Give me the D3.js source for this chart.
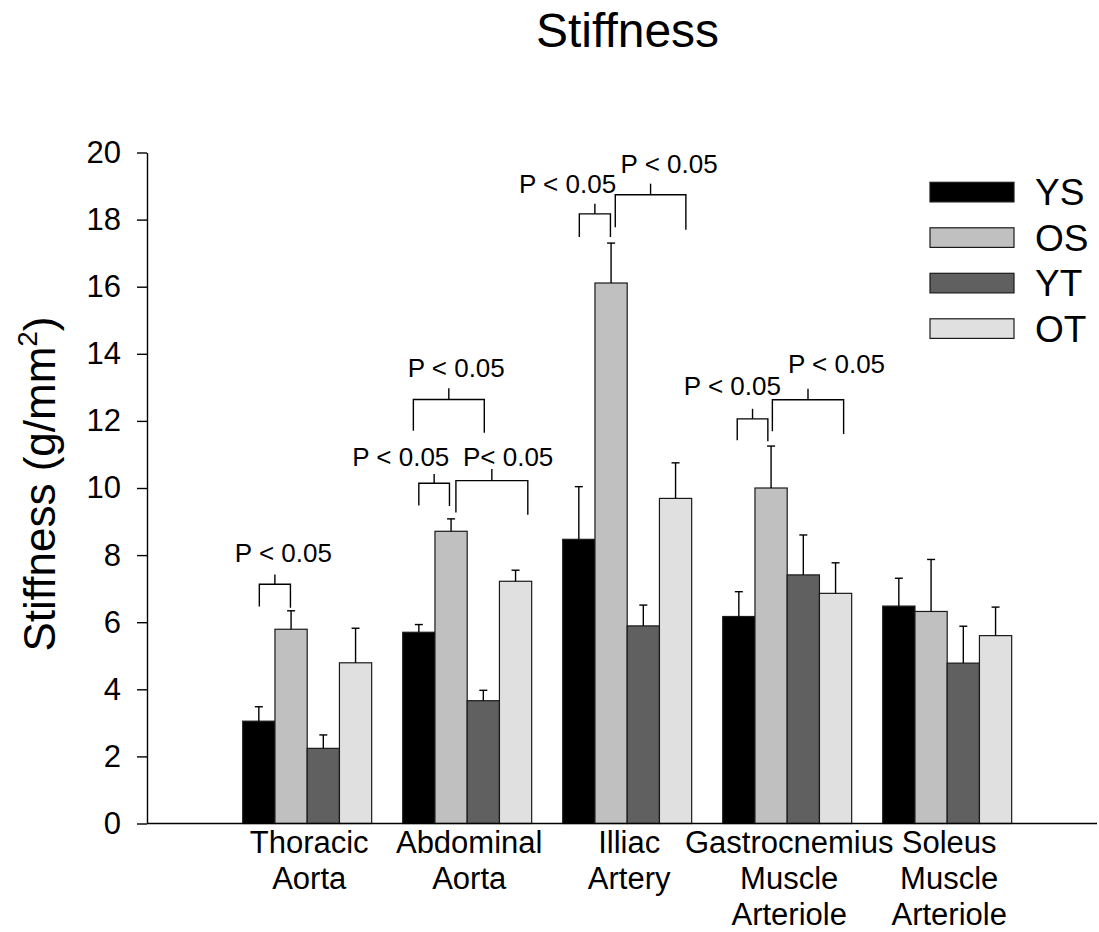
<!DOCTYPE html>
<html>
<head>
<meta charset="utf-8">
<script src="https://cdn.jsdelivr.net/npm/d3@7"></script>
<style>
  html, body { margin: 0; padding: 0; background: #fff; }
  svg { display: block; font-family: "Liberation Sans", Arial, sans-serif; }
</style>
</head>
<body>
<svg id="chart" width="1099" height="932"></svg>
<script>
// ---- data ----
const categories = ["Thoracic Aorta", "Abdominal Aorta", "Illiac Artery", "Gastrocnemius Muscle Arteriole", "Soleus Muscle Arteriole"];
const categoryLines = [["Thoracic", "Aorta"], ["Abdominal", "Aorta"], ["Illiac", "Artery"], ["Gastrocnemius", "Muscle", "Arteriole"], ["Soleus", "Muscle", "Arteriole"]];
const series = ["YS", "OS", "YT", "OT"];
const ysValues = [3.05, 5.70, 8.47, 6.17, 6.48];
const ysErrors = [0.43, 0.23, 1.57, 0.74, 0.83];
const osValues = [5.79, 8.71, 16.11, 10.00, 6.32];
const osErrors = [0.55, 0.37, 1.19, 1.25, 1.55];
const ytValues = [2.24, 3.66, 5.89, 7.41, 4.78];
const ytErrors = [0.40, 0.31, 0.62, 1.19, 1.10];
const otValues = [4.79, 7.22, 9.69, 6.86, 5.60];
const otErrors = [1.03, 0.33, 1.06, 0.91, 0.85];
const yTicks = [0, 2, 4, 6, 8, 10, 12, 14, 16, 18, 20];
// significance brackets: group, x in bar units from group start, y in data units
const brackets = [
  {g: 0, x1: 0.515, x2: 1.48, y: 7.13, l1: 6.47, l2: 6.43, t: 7.42, label: "P < 0.05", lx: 1.26, ly: 7.79},
  {g: 1, x1: 0.33, x2: 2.53, y: 12.64, l1: 11.71, l2: 11.65, t: 12.97, label: "P < 0.05", lx: 1.66, ly: 13.30},
  {g: 1, x1: 0.50, x2: 1.45, y: 10.14, l1: 9.48, l2: 9.46, t: 10.42, label: "P < 0.05", lx: -0.06, ly: 10.67},
  {g: 1, x1: 1.65, x2: 3.88, y: 10.22, l1: 9.27, l2: 9.20, t: 10.57, label: "P< 0.05", lx: 3.27, ly: 10.67},
  {g: 2, x1: 0.515, x2: 1.48, y: 18.17, l1: 17.48, l2: 17.48, t: 18.47, label: "P < 0.05", lx: 0.15, ly: 18.79},
  {g: 2, x1: 1.63, x2: 3.82, y: 18.74, l1: 17.77, l2: 17.70, t: 19.07, label: "P < 0.05", lx: 3.30, ly: 19.38},
  {g: 3, x1: 0.45, x2: 1.40, y: 12.06, l1: 11.42, l2: 11.39, t: 12.36, label: "P < 0.05", lx: 0.30, ly: 12.76},
  {g: 3, x1: 1.54, x2: 3.75, y: 12.63, l1: 11.69, l2: 11.61, t: 12.96, label: "P < 0.05", lx: 3.53, ly: 13.43}
];

const seriesValues = {YS: ysValues, OS: osValues, YT: ytValues, OT: otValues};
const seriesErrors = {YS: ysErrors, OS: osErrors, YT: ytErrors, OT: otErrors};
const colors = {YS: "#000000", OS: "#c0c0c0", YT: "#606060", OT: "#e0e0e0"};

// ---- layout ----
const svg = d3.select("#chart");
svg.append("rect").attr("width", 1099).attr("height", 932).attr("fill", "#fff");

const y = d3.scaleLinear().domain([0, 20]).range([823.5, 152.5]);
const x0 = d3.scaleBand().domain(categories).range([227.2, 1027.2]).paddingInner(0.194).paddingOuter(0.097);
const x1 = d3.scaleBand().domain(series).range([0, x0.bandwidth()]);
const axisX = 147;

// title
svg.append("text").attr("x", 627.5).attr("y", 47).attr("text-anchor", "middle")
  .attr("font-size", 48).attr("fill", "#000").text("Stiffness");

// bars
const rows = [];
categories.forEach((c, i) => series.forEach(s => rows.push({c, i, s, v: seriesValues[s][i], e: seriesErrors[s][i]})));

const gBars = svg.append("g");
gBars.selectAll("rect").data(rows).join("rect")
  .attr("x", d => x0(d.c) + x1(d.s))
  .attr("y", d => y(d.v))
  .attr("width", x1.bandwidth())
  .attr("height", d => y(0) - y(d.v))
  .attr("fill", d => colors[d.s])
  .attr("stroke", "#1a1a1a").attr("stroke-width", 1.2);

// error bars
const gErr = svg.append("g").attr("stroke", "#000").attr("stroke-width", 1.4);
rows.forEach(d => {
  const cx = x0(d.c) + x1(d.s) + x1.bandwidth() / 2;
  gErr.append("line").attr("x1", cx).attr("x2", cx).attr("y1", y(d.v)).attr("y2", y(d.v + d.e));
  gErr.append("line").attr("x1", cx - 4).attr("x2", cx + 4).attr("y1", y(d.v + d.e)).attr("y2", y(d.v + d.e));
});

// y axis
const yAxis = d3.axisLeft(y).tickValues(yTicks).tickSize(10).tickSizeOuter(0).tickPadding(16);
const gy = svg.append("g").attr("transform", `translate(${axisX},0)`).call(yAxis);
gy.selectAll("text").attr("font-size", 31).attr("fill", "#000").attr("font-family", "Liberation Sans, Arial, sans-serif");
gy.selectAll("line").attr("stroke", "#000").attr("stroke-width", 1.4);
gy.select(".domain").attr("stroke", "#000").attr("stroke-width", 1.4);

// x axis line
svg.append("line").attr("x1", axisX).attr("x2", 1097).attr("y1", y(0)).attr("y2", y(0))
  .attr("stroke", "#000").attr("stroke-width", 1.6);

// category labels
categories.forEach((c, i) => {
  const t = svg.append("text").attr("text-anchor", "middle").attr("font-size", 31).attr("fill", "#000");
  categoryLines[i].forEach((line, k) => {
    t.append("tspan").attr("x", x0(c) + x0.bandwidth() / 2 + 2).attr("y", 853 + k * 36).text(line);
  });
});

// y label
const yl = svg.append("text").attr("transform", "translate(55,484) rotate(-90)")
  .attr("text-anchor", "middle").attr("font-size", 44).attr("fill", "#000");
yl.append("tspan").text("Stiffness (g/mm");
yl.append("tspan").attr("font-size", 28).attr("dy", -18).text("2");
yl.append("tspan").attr("dy", 18).text(")");

// brackets
const gBr = svg.append("g").attr("stroke", "#000").attr("stroke-width", 1.4).attr("fill", "none");
const bw = x1.bandwidth();
brackets.forEach(b => {
  const gx = x0(categories[b.g]);
  const xa = gx + b.x1 * bw, xb = gx + b.x2 * bw, xm = (xa + xb) / 2;
  gBr.append("path").attr("d", `M${xa},${y(b.l1)}V${y(b.y)}H${xb}V${y(b.l2)}`);
  gBr.append("line").attr("x1", xm).attr("x2", xm).attr("y1", y(b.y)).attr("y2", y(b.t));
  svg.append("text").attr("x", gx + b.lx * bw).attr("y", y(b.ly)).attr("text-anchor", "middle")
    .attr("font-size", 26).attr("fill", "#000").text(b.label);
});

// legend
const legend = svg.append("g");
series.forEach((s, i) => {
  const top = 182.3 + i * 45.5;
  legend.append("rect").attr("x", 930).attr("y", top).attr("width", 84).attr("height", 19.6)
    .attr("fill", colors[s]).attr("stroke", "#1a1a1a").attr("stroke-width", 1.2);
  legend.append("text").attr("x", 1035).attr("y", top + 9.8 + 13).attr("font-size", 37)
    .attr("fill", "#000").text(s);
});
</script>
</body>
</html>
